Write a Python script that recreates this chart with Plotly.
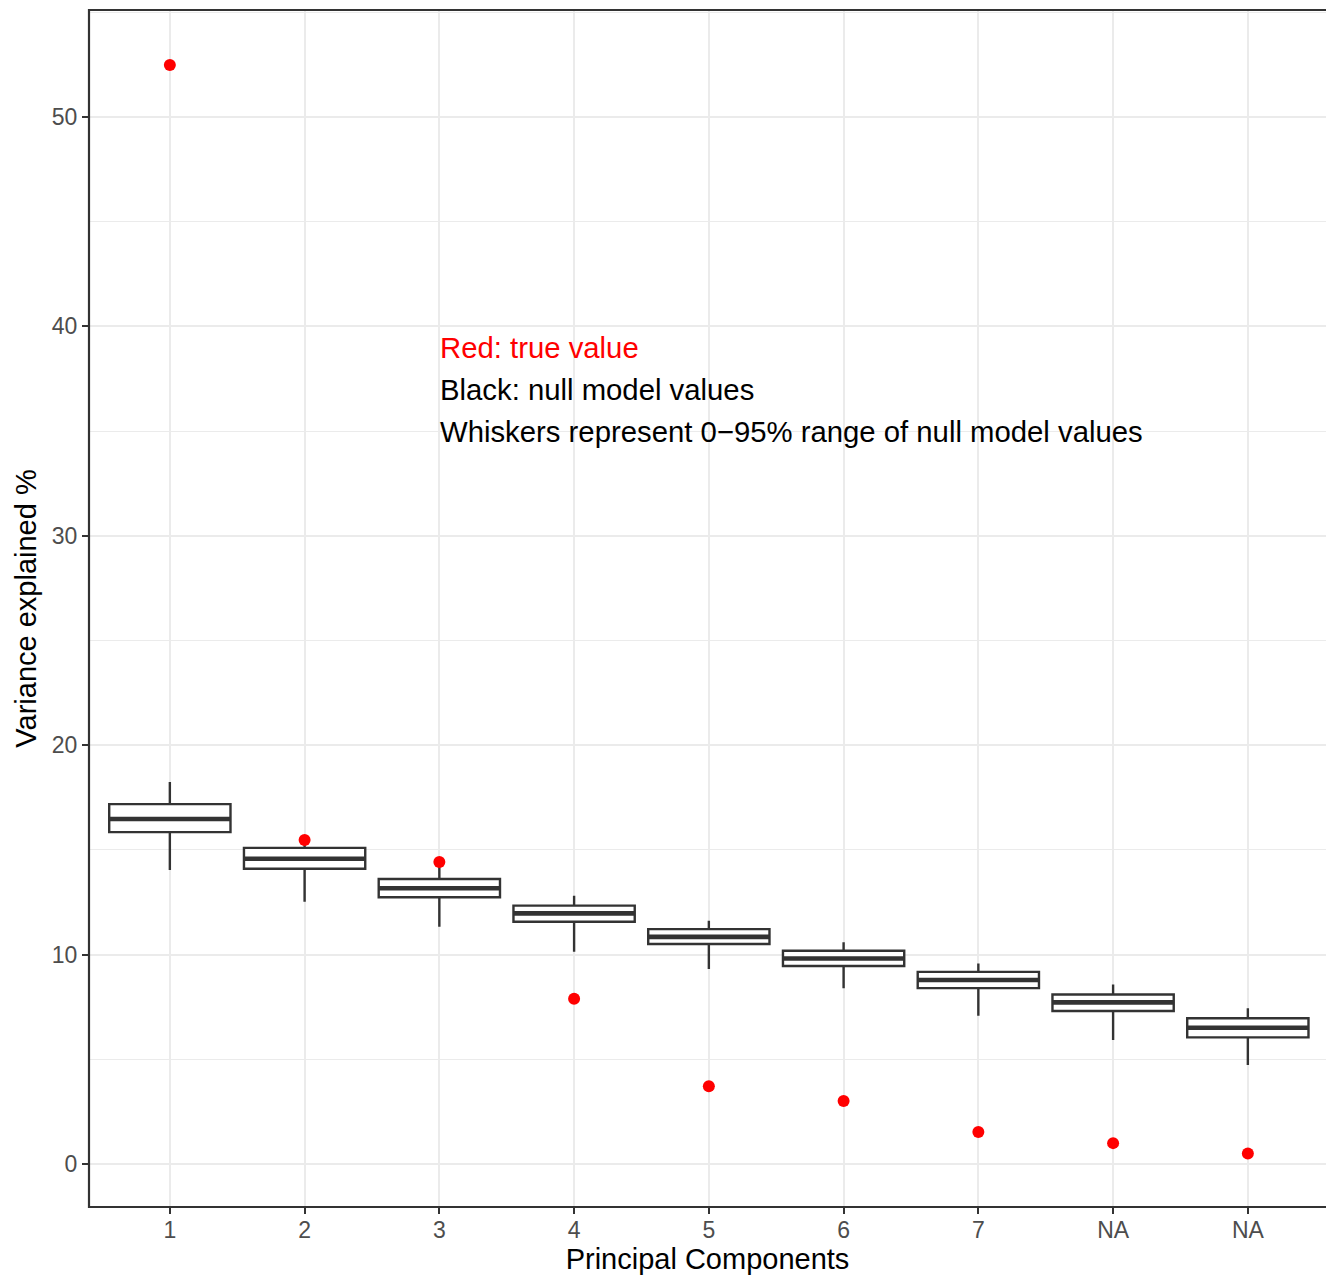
import plotly.graph_objects as go

# Principal component positions and their axis labels
positions = [1, 2, 3, 4, 5, 6, 7, 8, 9]
tick_labels = ["1", "2", "3", "4", "5", "6", "7", "NA", "NA"]

# Null-model summaries (variance explained %)
null_lower = [14.04, 12.53, 11.33, 10.14, 9.31, 8.39, 7.08, 5.92, 4.73]
null_q1 = [15.85, 14.10, 12.74, 11.57, 10.51, 9.46, 8.40, 7.31, 6.05]
null_median = [16.48, 14.58, 13.17, 11.97, 10.85, 9.82, 8.79, 7.72, 6.51]
null_q3 = [17.19, 15.10, 13.61, 12.34, 11.22, 10.19, 9.18, 8.10, 6.96]
null_upper = [18.24, 15.35, 14.30, 12.81, 11.62, 10.59, 9.58, 8.58, 7.44]

# Observed variance explained
true_values = [52.48, 15.47, 14.42, 7.89, 3.72, 3.01, 1.53, 1.00, 0.51]

# Legend-style notes placed inside the panel
note_x = 3
note_y = [39, 37, 35]
note_text = [
    "Red: true value",
    "Black: null model values",
    "Whiskers represent 0\u221295% range of null model values",
]
note_color = ["#FF0000", "#000000", "#000000"]

BOX_WIDTH = 0.9
DARK = "#333333"
FONT = "Liberation Sans, Arial, sans-serif"

fig = go.Figure()

fig.add_trace(go.Box(
    x=positions,
    q1=null_q1,
    median=null_median,
    q3=null_q3,
    lowerfence=null_lower,
    upperfence=null_upper,
    width=BOX_WIDTH,
    whiskerwidth=0,
    fillcolor="white",
    line=dict(color=DARK, width=2.4),
    boxpoints=False,
    hoverinfo="skip",
    showlegend=False,
))

# Thicker median bars
med_x, med_y = [], []
for p, m in zip(positions, null_median):
    med_x += [p - BOX_WIDTH / 2, p + BOX_WIDTH / 2, None]
    med_y += [m, m, None]
fig.add_trace(go.Scatter(
    x=med_x, y=med_y, mode="lines",
    line=dict(color=DARK, width=4.6),
    hoverinfo="skip", showlegend=False,
))

fig.add_trace(go.Scatter(
    x=positions, y=true_values, mode="markers",
    marker=dict(color="#FF0000", size=12, line=dict(width=0)),
    showlegend=False,
))

for y, t, c in zip(note_y, note_text, note_color):
    fig.add_annotation(
        x=note_x, y=y, xref="x", yref="y", text=t, showarrow=False,
        xanchor="left", yanchor="middle", xshift=-1,
        font=dict(family=FONT, size=29.3, color=c),
    )

# Panel border (right edge runs past the page)
fig.add_shape(type="rect", xref="paper", yref="paper",
              x0=0, x1=1.01, y0=0, y1=1,
              line=dict(color=DARK, width=2.2), fillcolor="rgba(0,0,0,0)",
              layer="above")

fig.update_layout(
    width=1326, height=1279,
    margin=dict(l=89, r=0, t=10, b=72),
    paper_bgcolor="white", plot_bgcolor="white",
    font=dict(family=FONT, color="#000000"),
    xaxis=dict(
        range=[0.4, 9.58],
        tickmode="array", tickvals=positions, ticktext=tick_labels,
        showgrid=True, gridcolor="#EBEBEB", gridwidth=2.2,
        zeroline=False, showline=False,
        ticks="outside", ticklen=6, tickwidth=2, tickcolor=DARK,
        ticklabelstandoff=-4,
        tickfont=dict(family=FONT, size=23, color="#4D4D4D"),
        title=dict(text="Principal Components", standoff=7,
                   font=dict(family=FONT, size=29, color="#000000")),
    ),
    yaxis=dict(
        range=[-2.05, 55.11],
        tickmode="array", tickvals=[0, 10, 20, 30, 40, 50],
        showgrid=True, gridcolor="#EBEBEB", gridwidth=2.2,
        minor=dict(tickvals=[5, 15, 25, 35, 45, 55], showgrid=True,
                   gridcolor="#EBEBEB", gridwidth=1.1, ticks=""),
        zeroline=False, showline=False,
        ticks="outside", ticklen=6, tickwidth=2, tickcolor=DARK,
        tickfont=dict(family=FONT, size=23, color="#4D4D4D"),
        title=dict(text="Variance explained %", standoff=6,
                   font=dict(family=FONT, size=29, color="#000000")),
    ),
)

fig.write_html("out.html")
